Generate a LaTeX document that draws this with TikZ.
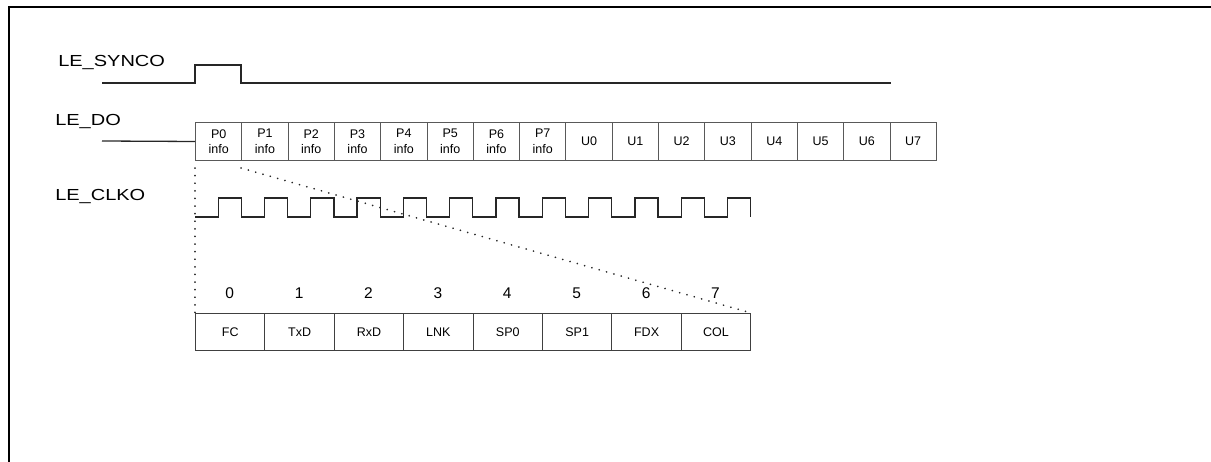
\documentclass[tikz,border=0pt]{standalone}
\usepackage{fontspec}
\setmainfont{Liberation Sans}
\begin{document}
\begin{tikzpicture}[x=1pt,y=-1pt,
  sig/.style={line width=1.3pt, draw=black!85},
  lbl/.style={anchor=west, font=\fontsize{16}{18}\selectfont, xscale=1.25, inner sep=0pt},
  dobox/.style={draw=black!65, line width=1pt, minimum width=46.3pt, minimum height=38pt, inner sep=0pt, anchor=north west, font=\fontsize{12.5}{15.5}\selectfont, align=center},
  bitbox/.style={draw=black!75, line width=1pt, minimum width=69.4pt, minimum height=37pt, inner sep=0pt, anchor=north west, font=\fontsize{12.5}{14}\selectfont},
  numlbl/.style={font=\fontsize{15.5}{16}\selectfont, inner sep=0pt},
  dotline/.style={line width=1.8pt, line cap=round, dash pattern=on 0.1pt off 7.5pt, draw=black!85}
]
\useasboundingbox (0,0) rectangle (1211,462);
% frame
\draw[line width=2pt] (9,462) -- (9,7) -- (1211,7);

% labels
\node[lbl] (lsync) at (58,63) {LE\_SYNCO};
\node[lbl] (ldo) at (55,122) {LE\_DO};
\node[lbl] (lclk) at (55,197) {LE\_CLKO};

% SYNCO waveform
\draw[sig] (102,83) -- (195,83) -- (195,65) -- (241,65) -- (241,83) -- (891,83);

% DO boxes
\foreach \i/\t in {0/{P0\\info},1/{P1\\info},2/{P2\\info},3/{P3\\info},4/{P4\\info},5/{P5\\info},6/{P6\\info},7/{P7\\info},8/U0,9/U1,10/U2,11/U3,12/U4,13/U5,14/U6,15/U7}
  \node[dobox] (do\i) at ({195+46.3*\i},122) {\t};
\draw[sig] (102,141) -- (do0.west);

% CLKO waveform
\draw[sig] (195,217) \foreach \k in {0,...,11}{ -- ({218.2+46.3*\k},217) -- ({218.2+46.3*\k},198) -- ({241.3+46.3*\k},198) -- ({241.3+46.3*\k},217)};

% bit boxes
\foreach \i/\t in {0/FC,1/TxD,2/RxD,3/LNK,4/SP0,5/SP1,6/FDX,7/COL}{
  \node[bitbox] (bit\i) at ({195+69.4*\i},313) {\t};
  \node[numlbl] (num\i) at ({195+69.4*\i+34.7},293) {\i};
}

% dotted zoom lines
\coordinate (zl) at (195,168);
\coordinate (zr) at (241,168);
\draw[dotline] (zl) -- (bit0.north west);
\draw[dotline] (zr) -- (bit7.north east);
\end{tikzpicture}
\end{document}
